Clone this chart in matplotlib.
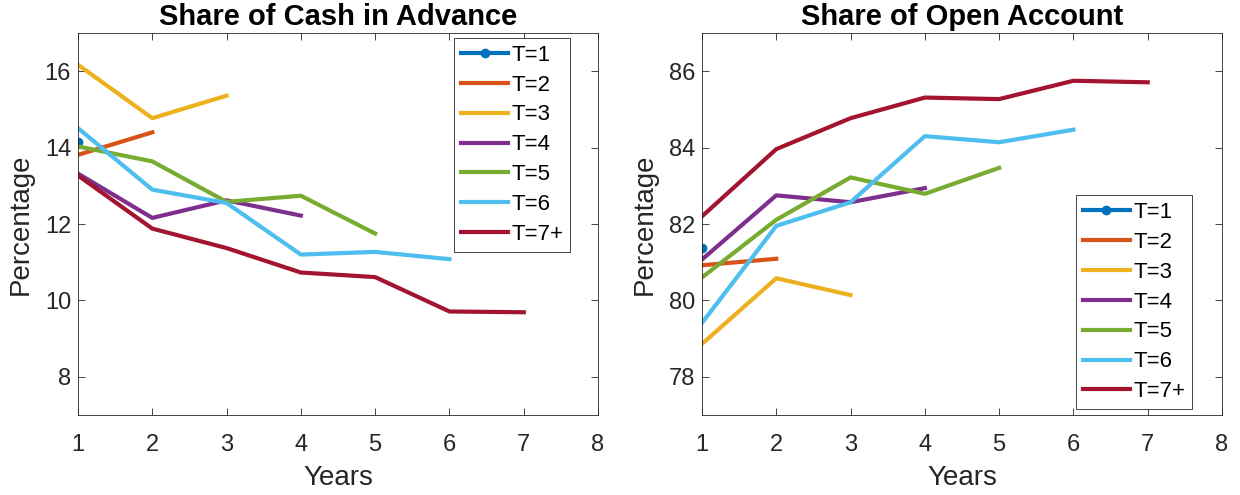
import matplotlib.pyplot as plt

plt.rcParams['font.family'] = ['Liberation Sans', 'DejaVu Sans']

years = [1, 2, 3, 4, 5, 6, 7]
labels = ["T=1", "T=2", "T=3", "T=4", "T=5", "T=6", "T=7+"]

# share of cash in advance, one list per cohort
cia_t1 = [14.16]
cia_t2 = [13.81, 14.40]
cia_t3 = [16.17, 14.77, 15.36]
cia_t4 = [13.32, 12.16, 12.62, 12.22]
cia_t5 = [14.03, 13.64, 12.58, 12.74, 11.75]
cia_t6 = [14.51, 12.90, 12.55, 11.20, 11.27, 11.08]
cia_t7 = [13.27, 11.88, 11.37, 10.73, 10.61, 9.71, 9.69]

# share of open account
oa_t1 = [81.37]
oa_t2 = [80.92, 81.09]
oa_t3 = [78.86, 80.58, 80.14]
oa_t4 = [81.07, 82.75, 82.57, 82.94]
oa_t5 = [80.60, 82.11, 83.22, 82.79, 83.47]
oa_t6 = [79.41, 81.95, 82.57, 84.30, 84.14, 84.47]
oa_t7 = [82.20, 83.96, 84.77, 85.31, 85.27, 85.75, 85.71]

colors = ["#0072BD", "#D95319", "#EDB120", "#7E2F8E", "#77AC30", "#4DBEEE", "#A2142F"]
axis_col = "#262626"


def draw(ax, series, title, ylim, yticks, legend_loc, anchor):
    for i, vals in enumerate(series):
        kw = dict(color=colors[i], lw=3, label=labels[i])
        if len(vals) == 1:
            kw.update(marker="o", markersize=6)
        ax.plot(years[:len(vals)], vals, **kw)
    ax.set_xlim(1, 8)
    ax.set_ylim(*ylim)
    ax.set_xticks(range(1, 9))
    ax.set_yticks(yticks)
    ax.tick_params(direction="in", top=True, right=True, labelsize=17,
                   colors=axis_col, length=5, width=0.6)
    ax.tick_params(axis="x", pad=14)
    ax.tick_params(axis="y", pad=5)
    for s in ax.spines.values():
        s.set_color(axis_col)
        s.set_linewidth(0.6)
    ax.set_title(title, fontsize=21, fontweight="bold", pad=6)
    ax.set_xlabel("Years", fontsize=20, color=axis_col, labelpad=6)
    ax.set_ylabel("Percentage", fontsize=20, color=axis_col, labelpad=8)
    leg = ax.legend(loc=legend_loc, bbox_to_anchor=anchor, fontsize=16,
                    fancybox=False, framealpha=1, edgecolor=axis_col,
                    handlelength=2.15, borderpad=0.3, labelspacing=0.4,
                    handletextpad=0.13, borderaxespad=0)
    leg.get_frame().set_linewidth(0.6)


fig = plt.figure(figsize=(12.4, 4.95), dpi=100)
ax1 = fig.add_axes([0.0629, 0.1616, 0.4194, 0.7717])
ax2 = fig.add_axes([0.5661, 0.1616, 0.4194, 0.7717])

draw(ax1, [cia_t1, cia_t2, cia_t3, cia_t4, cia_t5, cia_t6, cia_t7],
     "Share of Cash in Advance", (7, 17), [8, 10, 12, 14, 16],
     "upper right", (0.946, 0.987))
draw(ax2, [oa_t1, oa_t2, oa_t3, oa_t4, oa_t5, oa_t6, oa_t7],
     "Share of Open Account", (77, 87), [78, 80, 82, 84, 86],
     "lower right", (0.942, 0.016))

fig.savefig("out.png", dpi=100)
